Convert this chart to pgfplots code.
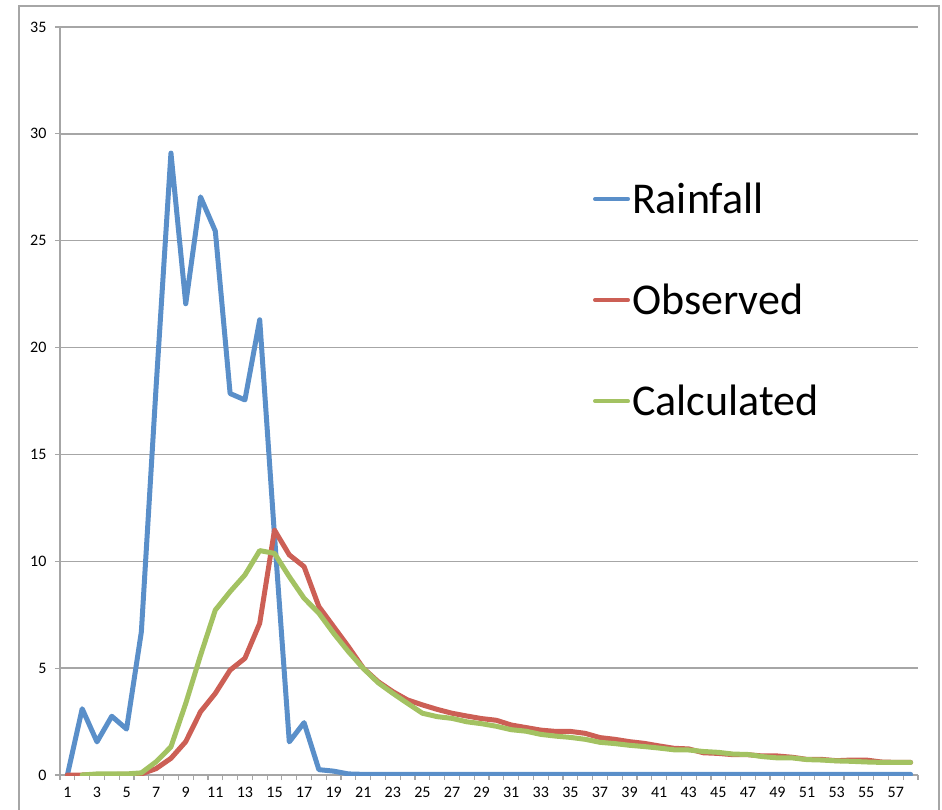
\documentclass[border=0pt]{standalone}
\usepackage{pgfplots}
\pgfplotsset{compat=1.18}
\usepackage{fontspec}
\setmainfont{Carlito}
\definecolor{rain}{HTML}{5A8FC9}
\definecolor{obs}{HTML}{CC5F55}
\definecolor{calc}{HTML}{A3C262}
\definecolor{gridc}{HTML}{A6A6A6}
\begin{document}
\begin{tikzpicture}[x=1pt,y=1pt]
\begin{axis}[
  at={(0,0)}, anchor=south west,
  scale only axis, width=858pt, height=748pt,
  xmin=0.5, xmax=58.5, ymin=0, ymax=35,
  axis x line=bottom, axis y line=left,
  axis line style={gridc, line width=1.3pt, -},
  ytick={0,5,...,35},
  xtick={0.5,1.5,...,58.5},
  xticklabels={},
  extra x ticks={1,3,...,57},
  extra x tick style={major tick length=0pt, grid=none},
  tick style={gridc, line width=1.2pt},
  major tick length=5pt,
  tick align=outside,
  ymajorgrids, grid style={gridc, line width=1.3pt},
  xticklabel style={font=\fontsize{16}{19}\selectfont, text=black, yshift=-9pt},
  yticklabel style={font=\fontsize{16}{19}\selectfont, text=black, xshift=-5pt},
  /pgf/number format/assume math mode=true,
  legend style={at={(0.621,0.635)}, anchor=west, draw=none, fill=none,
    font=\fontsize{44}{50}\selectfont, row sep=65pt, inner sep=0pt},
  legend cell align=left,
  legend image code/.code={\draw[#1, line width=4pt, line cap=round] (0pt,0pt) -- (33pt,0pt);},
]
\addplot[rain, line width=5pt, line join=round, line cap=round] coordinates {
(1,0)(2,3.1)(3,1.55)(4,2.75)(5,2.15)(6,6.7)(7,18.2)(8,29.1)(9,22.05)(10,27.05)
(11,25.45)(12,17.85)(13,17.55)(14,21.3)(15,11.2)(16,1.55)(17,2.45)(18,0.25)(19,0.18)(20,0.05)
(21,0.03)(22,0.03)(23,0.03)(24,0.03)(25,0.03)(26,0.03)(27,0.03)(28,0.03)(29,0.03)(30,0.03)
(31,0.03)(32,0.03)(33,0.03)(34,0.03)(35,0.03)(36,0.03)(37,0.03)(38,0.03)(39,0.03)(40,0.03)
(41,0.03)(42,0.03)(43,0.03)(44,0.03)(45,0.03)(46,0.03)(47,0.03)(48,0.03)(49,0.03)(50,0.03)
(51,0.03)(52,0.03)(53,0.03)(54,0.03)(55,0.03)(56,0.03)(57,0.03)(58,0.03)
};
\addlegendentry{Rainfall}
\addplot[obs, line width=5pt, line join=round, line cap=round] coordinates {
(1,0)(2,0)(3,0.02)(4,0.02)(5,0.03)(6,0.05)(7,0.3)(8,0.78)(9,1.56)(10,2.96)
(11,3.82)(12,4.91)(13,5.46)(14,7.1)(15,11.46)(16,10.3)(17,9.75)(18,7.88)(19,6.94)(20,6.0)
(21,5.0)(22,4.37)(23,3.9)(24,3.51)(25,3.28)(26,3.07)(27,2.89)(28,2.76)(29,2.64)(30,2.56)
(31,2.34)(32,2.22)(33,2.1)(34,2.04)(35,2.04)(36,1.95)(37,1.75)(38,1.67)(39,1.56)(40,1.48)
(41,1.36)(42,1.25)(43,1.22)(44,1.04)(45,1.01)(46,0.95)(47,0.95)(48,0.89)(49,0.89)(50,0.83)
(51,0.73)(52,0.73)(53,0.67)(54,0.7)(55,0.7)(56,0.61)(57,0.59)(58,0.59)
};
\addlegendentry{Observed}
\addplot[calc, line width=5pt, line join=round, line cap=round] coordinates {
(2,0)(3,0.05)(4,0.05)(5,0.05)(6,0.1)(7,0.62)(8,1.32)(9,3.35)(10,5.6)
(11,7.72)(12,8.58)(13,9.36)(14,10.5)(15,10.37)(16,9.28)(17,8.27)(18,7.57)(19,6.63)(20,5.77)
(21,4.99)(22,4.32)(23,3.82)(24,3.35)(25,2.89)(26,2.73)(27,2.65)(28,2.49)(29,2.4)(30,2.28)
(31,2.12)(32,2.05)(33,1.9)(34,1.82)(35,1.76)(36,1.67)(37,1.53)(38,1.47)(39,1.39)(40,1.33)
(41,1.26)(42,1.18)(43,1.17)(44,1.1)(45,1.06)(46,0.98)(47,0.96)(48,0.86)(49,0.8)(50,0.8)
(51,0.72)(52,0.7)(53,0.66)(54,0.64)(55,0.61)(56,0.59)(57,0.59)(58,0.59)
};
\addlegendentry{Calculated}
\end{axis}
\draw[gridc, line width=1.5pt] (-41,-80) rectangle (879,769);
\pgfresetboundingbox
\useasboundingbox (-60,-34) rectangle (882,775);
\end{tikzpicture}
\end{document}
